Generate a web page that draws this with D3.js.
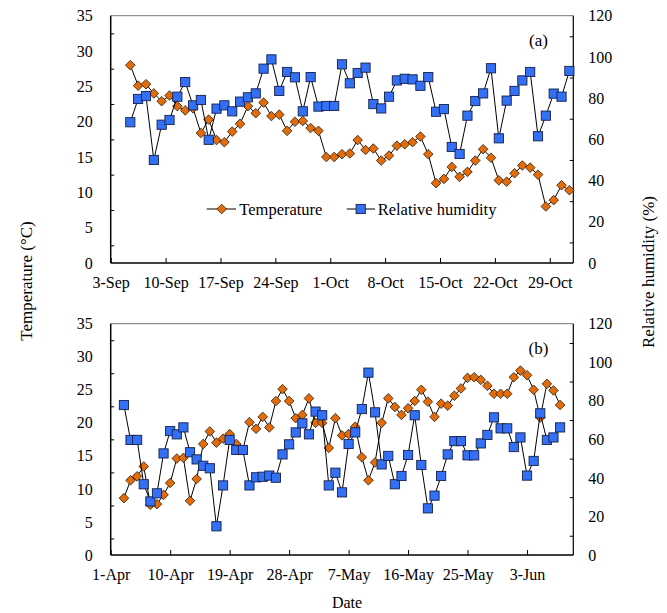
<!DOCTYPE html>
<html>
<head>
<meta charset="utf-8">
<script src="https://cdn.jsdelivr.net/npm/d3@7"></script>
<style>
  body { margin: 0; background: #fff; }
  svg, svg text { font-family: "Liberation Serif", "Times New Roman", serif; }
</style>
</head>
<body>
<script>
// panel (a): daily values from 5-Sep to 31-Oct
var tempA = [28.0,25.1,25.3,24.0,22.9,23.7,22.2,21.6,21.9,18.4,20.3,17.4,17.1,18.6,19.7,22.2,21.2,22.7,20.8,21.0,
  18.7,20.0,20.1,19.1,18.7,15.0,15.0,15.4,15.5,17.4,16.0,16.2,14.5,15.2,16.6,16.8,17.1,17.9,15.4,11.3,
  11.9,13.6,12.2,12.9,14.5,16.1,14.9,11.7,11.5,12.7,13.8,13.5,12.5,8.0,8.9,11.0,10.3];
var humA = [68.3,79.6,81.0,50.0,67.1,69.4,80.7,87.8,76.5,79.1,59.8,74.9,76.5,73.6,78.3,80.4,82.3,94.3,98.8,83.5,
  92.7,90.1,73.6,90.2,75.9,76.2,76.2,96.4,87.2,92.2,94.8,77.1,75.0,80.7,88.6,89.4,89.1,86.0,90.2,73.4,
  74.7,56.3,52.9,71.5,78.6,82.3,94.5,60.5,78.8,83.5,88.6,92.7,61.5,71.5,82.2,80.7,93.2];
var ticksA = ["3-Sep","10-Sep","17-Sep","24-Sep","1-Oct","8-Oct","15-Oct","22-Oct","29-Oct"];

// panel (b): daily values from 3-Apr to 8-Jun
var tempB = [8.6,11.3,11.9,13.4,7.6,7.7,9.1,10.9,14.6,14.7,8.2,11.5,16.8,18.7,17.0,17.6,18.3,16.8,15.9,20.1,
  19.1,20.9,19.3,23.3,25.1,23.3,20.7,21.2,23.7,20.0,20.0,16.2,20.7,18.1,18.3,19.4,14.8,11.3,14.0,20.0,
  23.7,22.4,21.2,22.2,23.3,25.0,23.2,20.9,22.9,22.6,24.1,25.2,26.8,26.9,26.5,25.6,24.4,24.4,24.4,26.9,
  27.9,27.2,25.0,20.8,25.9,24.9,22.7];
var humB = [77.8,59.7,59.7,36.7,27.8,32.0,52.7,64.3,62.6,66.2,53.3,49.6,46.3,45.0,14.9,36.1,59.7,54.5,54.5,36.1,
  40.3,40.6,41.2,40.1,52.2,57.4,63.6,68.3,62.6,74.4,72.5,36.1,42.7,32.5,57.6,63.6,75.7,94.6,74.0,47.0,
  51.4,36.7,41.0,51.9,72.5,46.7,24.2,30.8,41.0,52.2,59.1,59.1,51.7,51.7,57.9,62.3,71.4,65.7,65.7,56.0,
  61.0,41.2,48.8,73.5,59.7,61.0,66.2];
var ticksB = ["1-Apr","10-Apr","19-Apr","28-Apr","7-May","16-May","25-May","3-Jun"];

var tempTicks = [0,5,10,15,20,25,30,35];
var humTicks = [0,20,40,60,80,100,120];

var parse = d3.timeParse("%d-%b-%Y");
var fmt = d3.timeFormat("%-d-%b");

var W = 667, H = 613;
var left = 110.7, right = 573.3;

var svg = d3.select("body").append("svg")
  .attr("width", W).attr("height", H);

function styleAxis(a) {
  a.attr("font-family", null).attr("font-size", null);
  a.select(".domain").remove();
  a.selectAll("text").attr("font-size", 16).attr("fill", "#000");
  a.selectAll("line").attr("stroke", "#000");
}

function panel(opt) {
  var x = d3.scaleTime().domain(opt.domain).range([left, right]);
  var yT = d3.scaleLinear().domain([0, 35]).range([opt.bottom, opt.top]);
  var yH = d3.scaleLinear().domain([0, 120]).range([opt.bottom, opt.top]);
  var g = svg.append("g");

  var tickDates = opt.ticks.map(function(t){ return parse(t + "-2015"); });

  // x axis, ticks point inward
  var xa = g.append("g").attr("transform", "translate(0," + opt.bottom + ")")
    .call(d3.axisBottom(x).tickValues(tickDates).tickFormat(fmt)
      .tickSizeInner(-5).tickSizeOuter(0).tickPadding(14));
  styleAxis(xa);

  // left axis labels + minor inside ticks
  var la = g.append("g").attr("transform", "translate(" + left + ",0)")
    .call(d3.axisLeft(yT).tickValues(tempTicks).tickSize(0).tickPadding(18));
  styleAxis(la);
  var lm = g.append("g").attr("transform", "translate(" + left + ",0)")
    .call(d3.axisRight(yT).tickValues(tempTicks.slice(1).map(function(v){ return v - 2.5; }))
      .tickSize(3.5).tickFormat(""));
  styleAxis(lm);

  // right axis
  var ra = g.append("g").attr("transform", "translate(" + right + ",0)")
    .call(d3.axisRight(yH).tickValues(humTicks).tickSize(0).tickPadding(15));
  styleAxis(ra);
  var rm = g.append("g").attr("transform", "translate(" + right + ",0)")
    .call(d3.axisLeft(yH).tickValues(humTicks.slice(1).map(function(v){ return v - 10; }))
      .tickSize(3.5).tickFormat(""));
  styleAxis(rm);

  // frame
  g.append("line").attr("x1", left).attr("x2", right).attr("y1", opt.top).attr("y2", opt.top)
    .attr("stroke", "#777").attr("stroke-width", 1);
  g.append("line").attr("x1", right).attr("x2", right).attr("y1", opt.top).attr("y2", opt.bottom)
    .attr("stroke", "#000").attr("stroke-width", 1.2);
  g.append("line").attr("x1", left).attr("x2", left).attr("y1", opt.top).attr("y2", opt.bottom)
    .attr("stroke", "#000").attr("stroke-width", 1.5);
  g.append("line").attr("x1", left).attr("x2", right).attr("y1", opt.bottom).attr("y2", opt.bottom)
    .attr("stroke", "#000").attr("stroke-width", 1.5);

  var dates = opt.temp.map(function(v, i){ return d3.timeHour.offset(opt.start, i * 24); });

  // temperature series
  var lineT = d3.line().x(function(d, i){ return x(dates[i]); }).y(function(d){ return yT(d); });
  g.append("path").attr("d", lineT(opt.temp)).attr("fill", "none").attr("stroke", "#000").attr("stroke-width", 1);
  g.selectAll(".dia").data(opt.temp).enter().append("path")
    .attr("d", "M0,-4.8L4.8,0L0,4.8L-4.8,0Z")
    .attr("transform", function(d, i){ return "translate(" + x(dates[i]) + "," + yT(d) + ")"; })
    .attr("fill", "#e36c0a").attr("stroke", "#2a1a0a").attr("stroke-width", 0.8);

  // humidity series
  var lineH = d3.line().x(function(d, i){ return x(dates[i]); }).y(function(d){ return yH(d); });
  g.append("path").attr("d", lineH(opt.hum)).attr("fill", "none").attr("stroke", "#000").attr("stroke-width", 1);
  g.selectAll(".sq").data(opt.hum).enter().append("rect")
    .attr("x", function(d, i){ return x(dates[i]) - 4.6; })
    .attr("y", function(d){ return yH(d) - 4.6; })
    .attr("width", 9.2).attr("height", 9.2)
    .attr("fill", "#3370f5").attr("stroke", "#14204a").attr("stroke-width", 0.9);

  g.append("text").attr("x", 538.5).attr("y", opt.top + 30).attr("text-anchor", "middle")
    .attr("font-size", 17).text(opt.label);
}

panel({
  domain: [new Date(2015, 8, 3), new Date(2015, 10, 1)],
  start: new Date(2015, 8, 5, 12),
  top: 15.7, bottom: 263, temp: tempA, hum: humA, ticks: ticksA, label: "(a)"
});
panel({
  domain: [new Date(2015, 3, 1), new Date(2015, 5, 10)],
  start: new Date(2015, 3, 3),
  top: 323.7, bottom: 555, temp: tempB, hum: humB, ticks: ticksB, label: "(b)"
});

// legend in panel (a)
var lg = svg.append("g").attr("font-size", 16.5);
lg.append("line").attr("x1", 206.7).attr("x2", 236).attr("y1", 209).attr("y2", 209).attr("stroke", "#000");
lg.append("path").attr("d", "M0,-4.8L4.8,0L0,4.8L-4.8,0Z").attr("transform", "translate(221.7,209)")
  .attr("fill", "#e36c0a").attr("stroke", "#2a1a0a").attr("stroke-width", 0.8);
lg.append("text").attr("x", 239.3).attr("y", 214.5).text("Temperature");
lg.append("line").attr("x1", 346.7).attr("x2", 375).attr("y1", 209).attr("y2", 209).attr("stroke", "#000");
lg.append("rect").attr("x", 356.1).attr("y", 204.4).attr("width", 9.2).attr("height", 9.2)
  .attr("fill", "#3370f5").attr("stroke", "#14204a").attr("stroke-width", 0.9);
lg.append("text").attr("x", 377.7).attr("y", 214.5).text("Relative humidity");

// axis titles
svg.append("text").attr("transform", "translate(32,281) rotate(-90)").attr("text-anchor", "middle")
  .attr("font-size", 17).text("Temperature (\u00B0C)");
svg.append("text").attr("transform", "translate(654,272) rotate(-90)").attr("text-anchor", "middle")
  .attr("font-size", 17).text("Relative humidity (%)");
svg.append("text").attr("x", 347).attr("y", 608).attr("text-anchor", "middle")
  .attr("font-size", 16).text("Date");
</script>
</body>
</html>
